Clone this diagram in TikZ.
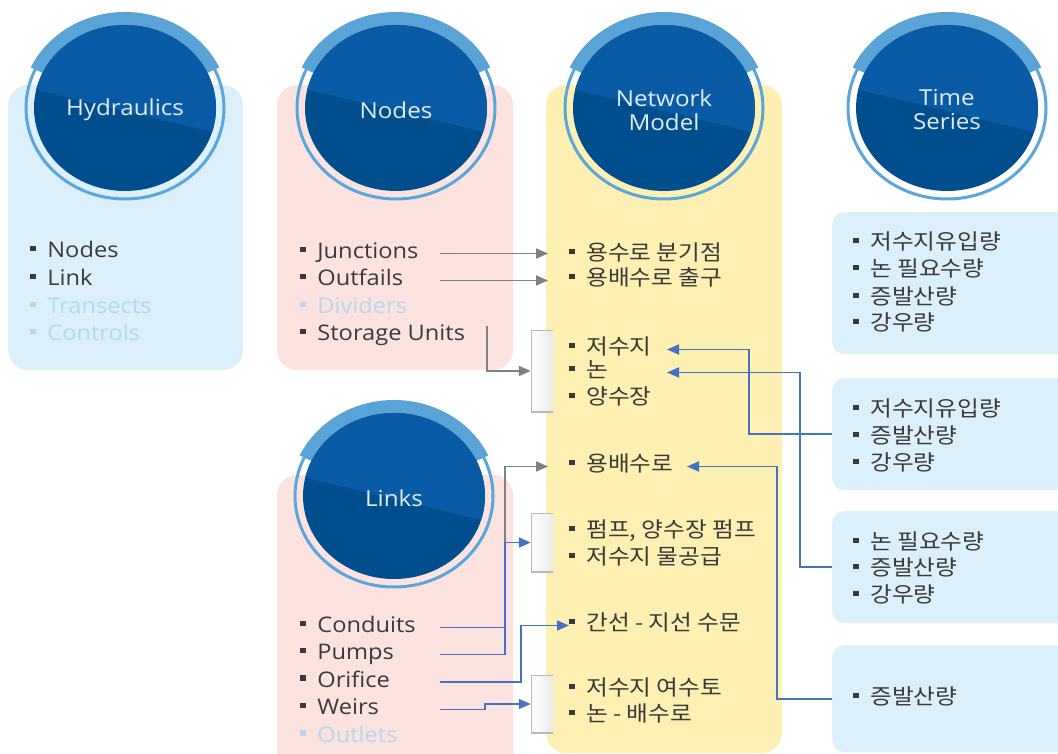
\documentclass[tikz,border=0pt]{standalone}
\usepackage{fontspec}
\setmainfont[FakeStretch=1.1]{Open Sans}
\newfontfamily\kr[FakeStretch=1.1]{Noto Sans CJK KR}
\usetikzlibrary{arrows.meta}
\definecolor{hydbg}{HTML}{DCF0FC}
\definecolor{pinkbg}{HTML}{FCE3DF}
\definecolor{netbg}{HTML}{FDF0B2}
\definecolor{ringc}{HTML}{5BA7DB}
\definecolor{capc}{HTML}{5AA3D6}
\definecolor{disktop}{HTML}{0A5BA6}
\definecolor{diskbot}{HTML}{004E8D}
\definecolor{txt}{HTML}{3A3A3A}
\definecolor{faint}{HTML}{B8D8F2}
\definecolor{grayarr}{HTML}{808080}
\definecolor{bluearr}{HTML}{4472C4}

% square bullet in front of every list entry
\newcommand{\itm}{\rule[0.3em]{0.25em}{0.25em}\hspace{0.55em}}

% round badge on top of a panel: centre, name, label
\newcommand{\badge}[3]{%
  \begin{scope}[shift={#1}]
    \draw[ringc, line width=3pt] (0,0) ellipse [x radius=99, y radius=91];
    \fill[capc] (25:104 and 96) arc [start angle=25, end angle=155, x radius=104, y radius=96]
      -- (155:89 and 81) arc [start angle=155, end angle=25, x radius=89, y radius=81] -- cycle;
    \begin{scope}
      \clip (0,0) ellipse [x radius=91, y radius=83];
      \fill[diskbot] (-100,-100) rectangle (100,100);
      \fill[disktop] (-100,21) -- (100,-27) -- (100,100) -- (-100,100) -- cycle;
    \end{scope}
    \node[badgetext] (#2) at (0,-2) {#3};
  \end{scope}}

\begin{document}
\begin{tikzpicture}[x=1pt, y=1pt,
    panel/.style={rounded corners=20pt},
    badgetext/.style={text=white!88!disktop, font=\fontsize{22}{26}\selectfont, align=center},
    item/.style={anchor=west, inner sep=0pt, text height=15pt, text depth=4.5pt, text=txt,
      font=\fontsize{21.5}{24}\selectfont},
    kitem/.style={item, font=\kr\fontsize{21.5}{24}\selectfont},
    faded/.style={text=faint},
    tsbox/.style={fill=hydbg, rounded corners=12pt, anchor=north west, inner sep=0pt,
      minimum width=260pt},
    brk/.style={minimum width=22pt, inner sep=0pt, left color=white, right color=gray!16,
      path picture={\draw[gray!55, line width=2pt]
        ([xshift=2pt]path picture bounding box.north east) -- (path picture bounding box.north west)
        -- (path picture bounding box.south west) -- ([xshift=2pt]path picture bounding box.south east);}},
    garr/.style={draw=grayarr, line width=1.8pt, -{Triangle[length=12pt, width=10pt]}},
    barr/.style={draw=bluearr, line width=1.8pt, -{Triangle[length=12pt, width=10pt]}},
    bline/.style={draw=bluearr, line width=1.8pt}]
  \useasboundingbox (0,0) rectangle (1058,-754);
  \clip (0,0) rectangle (1058,-754);

  % Panels
  \fill[hydbg, panel] (8,-85) rectangle (243,-370);
  \fill[pinkbg, panel] (277,-85) rectangle (513,-370);
  \fill[netbg, panel] (546,-85) rectangle (782,-753);
  \fill[pinkbg, panel] (277,-475) rectangle (513,-790);

  % Time series boxes
  \node[tsbox, minimum height=142pt] (ts1) at (832,-212) {};
  \node[tsbox, minimum height=112pt] (ts2) at (832,-378) {};
  \node[tsbox, minimum height=112pt] (ts3) at (832,-511) {};
  \node[tsbox, minimum height=107pt] (ts4) at (832,-645) {};

  % Badges
  \badge{(125,-108)}{hyd}{Hydraulics}
  \badge{(396,-108)}{nod}{Nodes}
  \badge{(664,-108)}{net}{Network\\[-2pt]Model}
  \badge{(947,-108)}{tser}{Time\\[-2pt]Series}
  \badge{(394,-496)}{lnk}{Links}

  % Hydraulics list
  \node[item] (h1) at (30,-252.5) {\itm Nodes};
  \node[item] (h2) at (30,-280.5) {\itm Link};
  \node[item, faded] (h3) at (30,-308.5) {\itm Transects};
  \node[item, faded] (h4) at (30,-335.5) {\itm Controls};

  % Nodes list
  \node[item] (junc) at (300,-253.5) {\itm Junctions};
  \node[item] (outf) at (300,-280.5) {\itm Outfails};
  \node[item, faded] (divi) at (300,-308.5) {\itm Dividers};
  \node[item] (stor) at (300,-335.5) {\itm Storage Units};

  % Links list
  \node[item] (cond) at (300,-627.5) {\itm Conduits};
  \node[item] (pump) at (300,-654.5) {\itm Pumps};
  \node[item] (orif) at (300,-682) {\itm Orifice};
  \node[item] (weir) at (300,-709.5) {\itm Weirs};
  \node[item, faded] (outl) at (300,-737) {\itm Outlets};

  % Network model list
  \node[kitem] (nm1) at (569,-255.5) {\itm 용수로 분기점};
  \node[kitem] (nm2) at (569,-280.5) {\itm 용배수로 출구};
  \node[kitem] (res) at (569,-349.5) {\itm 저수지};
  \node[kitem] (non) at (569,-372.5) {\itm 논};
  \node[kitem] (yang) at (569,-399.5) {\itm 양수장};
  \node[kitem] (ybs) at (569,-466.5) {\itm 용배수로};
  \node[kitem] (pmp) at (569,-532.5) {\itm 펌프, 양수장 펌프};
  \node[kitem] (wsup) at (569,-559.5) {\itm 저수지 물공급};
  \node[kitem] (gan) at (569,-625.5) {\itm 간선 - 지선 수문};
  \node[kitem] (yeo) at (569,-690.5) {\itm 저수지 여수토};
  \node[kitem] (bae) at (569,-716.5) {\itm 논 - 배수로};

  % Brackets
  \node[brk, minimum height=82pt] (b1) at (542,-371) {};
  \node[brk, minimum height=59pt] (b2) at (542,-542.5) {};
  \node[brk, minimum height=58pt] (b3) at (542,-704) {};

  % Time series lists
  \node[kitem] (t11) at (853,-244.5) {\itm 저수지유입량};
  \node[kitem] (t12) at (853,-271.5) {\itm 논 필요수량};
  \node[kitem] (t13) at (853,-299.5) {\itm 증발산량};
  \node[kitem] (t14) at (853,-325.5) {\itm 강우량};
  \node[kitem] (t21) at (853,-411.5) {\itm 저수지유입량};
  \node[kitem] (t22) at (853,-438.5) {\itm 증발산량};
  \node[kitem] (t23) at (853,-465.5) {\itm 강우량};
  \node[kitem] (t31) at (853,-544.5) {\itm 논 필요수량};
  \node[kitem] (t32) at (853,-570.5) {\itm 증발산량};
  \node[kitem] (t33) at (853,-597.5) {\itm 강우량};
  \node[kitem] (t41) at (853,-699.5) {\itm 증발산량};

  % Columns for the connectors
  \coordinate (lx) at (440,0);
  \coordinate (tipx) at (548,0);
  \coordinate (sx) at (487,0);
  \coordinate (jx) at (505,0);
  \coordinate (ox) at (521,0);
  \coordinate (wx) at (485,0);
  \coordinate (rtip) at (667,0);
  \coordinate (ytip) at (687,0);
  \coordinate (c1) at (749,0);
  \coordinate (c2) at (800,0);
  \coordinate (c3) at (777,0);

  % Nodes -> network model
  \draw[garr] (lx |- junc.east) -- (tipx |- junc.east);
  \draw[garr] (lx |- outf.east) -- (tipx |- outf.east);
  \draw[garr] (sx |- stor.north) |- (b1.west);

  % Links -> network model
  \draw[garr] (jx |- cond.east) |- (tipx |- ybs.west);
  \draw[bline] (lx |- cond.east) -- (jx |- cond.east);
  \draw[barr] (lx |- pump.east) -| (jx |- b2.west) -- (b2.west);
  \draw[barr] (lx |- orif.east) -| (ox |- gan.west) -- (gan.west);
  \draw[barr] (lx |- weir.east) -| (wx |- b3.west) -- (b3.west);

  % Time series -> network model
  \draw[barr] (ts2.west) -| (c1 |- res.east) -- (rtip |- res.east);
  \draw[barr] (ts3.west) -| (c2 |- non.east) -- (rtip |- non.east);
  \draw[barr] (ts4.west) -| (c3 |- ybs.east) -- (ytip |- ybs.east);
\end{tikzpicture}
\end{document}
